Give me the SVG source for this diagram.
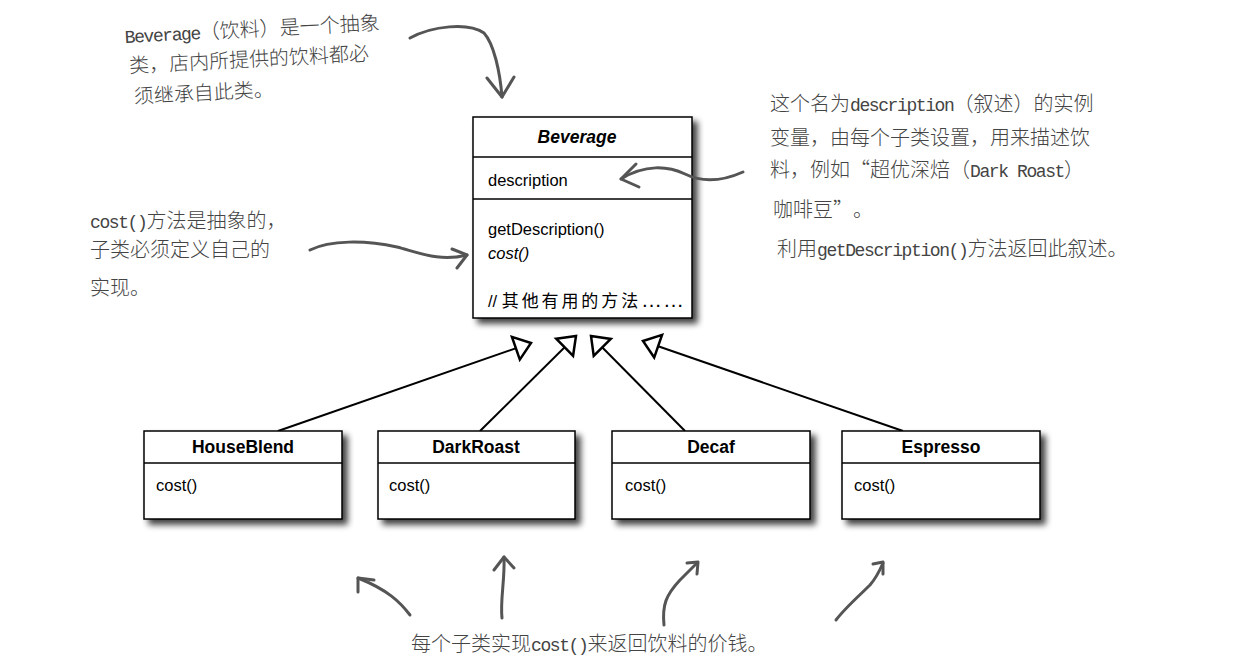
<svg xmlns="http://www.w3.org/2000/svg" width="1240" height="664" viewBox="0 0 1240 664">
<style>
.box { fill: #fff; stroke: #000; stroke-width: 1.5; }
.div { stroke: #000; stroke-width: 1.5; }
.uml { font-family: "Liberation Sans", Arial, sans-serif; font-size: 16.5px; fill: #000; }
.ttl { font-family: "Liberation Sans", Arial, sans-serif; font-size: 17.5px; font-weight: bold; fill: #000; text-anchor: middle; }
.cjk { font-family: "Noto Sans CJK SC", sans-serif; font-size: 17px; letter-spacing: 2.9px; }
.ell { font-family: "Liberation Sans", Arial, sans-serif; font-size: 21px; letter-spacing: 1px; }
.hand { font-family: "Noto Sans CJK SC", sans-serif; font-size: 20px; font-weight: 300; fill: #444; }
.lat { font-family: "Liberation Mono", "Noto Sans CJK SC", monospace; font-size: 18px; letter-spacing: -1.4px; font-weight: normal; }
.inh { stroke: #000; stroke-width: 2; fill: none; marker-end: url(#tri); }
.pen { stroke: #555; stroke-width: 3; fill: none; stroke-linecap: round; stroke-linejoin: round; }
</style>
<defs>
<filter id="sh" x="-10%" y="-10%" width="130%" height="140%">
<feGaussianBlur in="SourceAlpha" stdDeviation="3"/>
<feOffset dx="5" dy="5"/>
<feComponentTransfer><feFuncA type="linear" slope="0.75"/></feComponentTransfer>
<feMerge><feMergeNode/><feMergeNode in="SourceGraphic"/></feMerge>
</filter>
<marker id="tri" markerUnits="userSpaceOnUse" markerWidth="26" markerHeight="30" viewBox="-3 -3 24 30" refX="17" refY="12" orient="auto">
<path d="M1,0 L17,12 L1,24 z" fill="#fff" stroke="#000" stroke-width="2.5"/>
</marker>
</defs>
<rect width="1240" height="664" fill="#fff"/>

<g id="connectors">
<line class="inh" x1="278" y1="431" x2="531" y2="343"/>
<line class="inh" x1="480" y1="431" x2="576" y2="336"/>
<line class="inh" x1="685" y1="431" x2="591" y2="336"/>
<line class="inh" x1="903" y1="431" x2="643" y2="341"/>
</g>

<g id="beverage">
<rect class="box" x="473" y="117" width="219" height="201" filter="url(#sh)"/>
<line class="div" x1="473" y1="157" x2="692" y2="157"/>
<line class="div" x1="473" y1="199" x2="692" y2="199"/>
<text class="ttl" x="577" y="143" font-style="italic" font-size="18.5">Beverage</text>
<text class="uml" x="488" y="186">description</text>
<text class="uml" x="488" y="235">getDescription()</text>
<text class="uml" x="488" y="259" font-style="italic">cost()</text>
<text class="uml" x="488" y="307">// <tspan class="cjk">其他有用的方法</tspan><tspan class="ell">……</tspan></text>
</g>

<g id="houseblend">
<rect class="box" x="144" y="431" width="198" height="88" filter="url(#sh)"/>
<line class="div" x1="144" y1="463" x2="342" y2="463"/>
<text class="ttl" x="243" y="453">HouseBlend</text>
<text class="uml" x="156" y="491">cost()</text>
</g>

<g id="darkroast">
<rect class="box" x="378" y="431" width="197" height="88" filter="url(#sh)"/>
<line class="div" x1="378" y1="463" x2="575" y2="463"/>
<text class="ttl" x="476" y="453">DarkRoast</text>
<text class="uml" x="389" y="491">cost()</text>
</g>

<g id="decaf">
<rect class="box" x="612" y="431" width="198" height="88" filter="url(#sh)"/>
<line class="div" x1="612" y1="463" x2="810" y2="463"/>
<text class="ttl" x="711" y="453">Decaf</text>
<text class="uml" x="625" y="491">cost()</text>
</g>

<g id="espresso">
<rect class="box" x="842" y="431" width="198" height="88" filter="url(#sh)"/>
<line class="div" x1="842" y1="463" x2="1040" y2="463"/>
<text class="ttl" x="941" y="453">Espresso</text>
<text class="uml" x="854" y="491">cost()</text>
</g>

<g id="note-abstract">
<g transform="rotate(-3 125 43)">
<text class="hand" x="125" y="43"><tspan class="lat">Beverage</tspan>（饮料）是一个抽象</text>
<text class="hand" x="128" y="73">类，店内所提供的饮料都必</text>
<text class="hand" x="131" y="104">须继承自此类。</text>
</g>
<path class="pen" d="M410,38 C432,26 468,22 484,33 C494,44 500,72 502,97"/>
<path class="pen" d="M487,78 L502,97 L514,77"/>
</g>

<g id="note-description">
<text class="hand" x="770" y="111">这个名为<tspan class="lat">description</tspan>（叙述）的实例</text>
<text class="hand" x="770" y="145">变量，由每个子类设置，用来描述饮</text>
<text class="hand" x="770" y="177">料，例如“超优深焙（<tspan class="lat">Dark Roast</tspan>）</text>
<text class="hand" x="773" y="217">咖啡豆”<tspan dx="10">。</tspan></text>
<text class="hand" x="777" y="256">利用<tspan class="lat">getDescription()</tspan>方法返回此叙述。</text>
<path class="pen" d="M743,172 C725,180 705,184 685,174 C668,166 645,164 621,179"/>
<path class="pen" d="M636,164 L621,179 L639,187"/>
</g>

<g id="note-cost">
<text class="hand" x="90" y="228"><tspan class="lat">cost()</tspan>方法是抽象的，</text>
<text class="hand" x="90" y="257">子类必须定义自己的</text>
<text class="hand" x="90" y="295">实现。</text>
<path class="pen" d="M310,250 C330,240 365,240 397,247 C420,253 440,262 467,255"/>
<path class="pen" d="M452,249 L467,255 L457,268"/>
</g>

<g id="note-subclass">
<text class="hand" x="411" y="651">每个子类实现<tspan class="lat">cost()</tspan>来返回饮料的价钱。</text>
<path class="pen" d="M410,615 C400,602 388,590 358,578"/>
<path class="pen" d="M358,592 L358,578 L374,580"/>
<path class="pen" d="M502,618 C500,600 505,580 504,557"/>
<path class="pen" d="M494,570 L504,557 L514,568"/>
<path class="pen" d="M664,625 C662,605 666,595 680,580 L697,563"/>
<path class="pen" d="M687,563 L698,562 L697,574"/>
<path class="pen" d="M836,620 C845,608 860,595 870,585 C876,578 880,570 883,563"/>
<path class="pen" d="M873,564 L883,562 L883,574"/>
</g>
</svg>
